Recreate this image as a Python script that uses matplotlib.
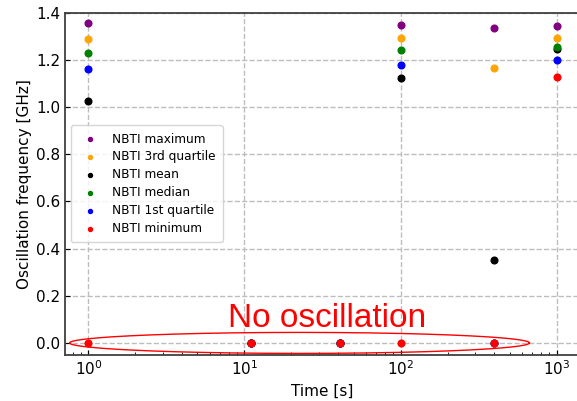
import numpy as np
import matplotlib
matplotlib.use('Agg')
from matplotlib import pyplot as plt

# stress time [s]
time = [1, 11, 41, 100, 400, 1000]

# oscillation frequency [GHz], 0 = no oscillation
f_max = [1.355, 0, 0, 1.346, 1.335, 1.345]
f_q3 = [1.289, 0, 0, 1.292, 1.165, 1.292]
f_mean = [1.024, 0, 0, 1.123, 0.353, 1.247]
f_median = [1.228, 0, 0, 1.240, 0, 1.254]
f_q1 = [1.162, 0, 0, 1.179, 0, 1.200]
f_min = [0, 0, 0, 0, 0, 1.128]

series = [
    ('NBTI maximum', f_max, 'purple'),
    ('NBTI 3rd quartile', f_q3, 'orange'),
    ('NBTI mean', f_mean, 'black'),
    ('NBTI median', f_median, 'green'),
    ('NBTI 1st quartile', f_q1, 'blue'),
    ('NBTI minimum', f_min, 'red'),
]

fig = plt.figure(figsize=(5.77, 4.01), dpi=100)
# the right edge of the axes lies just outside the picture
ax = fig.add_axes([65 / 577, 46.3 / 401, 515 / 577, 342 / 401])

for label, vals, col in series:
    ax.scatter(time, vals, s=23, color=col, label=label, zorder=3)

ax.set_xscale('log')
ax.set_xlim(10 ** -0.15, 10 ** 3.15)
ax.set_ylim(-0.05, 1.4)
ax.grid(True, which='major', linestyle='--', color='#bdbdbd', linewidth=1)
ax.set_axisbelow(True)
ax.tick_params(which='both', direction='in', labelsize=11)
for sp in ax.spines.values():
    sp.set_color('#404040')
    sp.set_linewidth(1.3)

ax.set_xlabel('Time [s]', fontsize=11)
ax.set_ylabel('Oscillation frequency [GHz]', fontsize=11, labelpad=3)

ax.legend(loc='center left', fontsize=8.7, markerscale=0.6, labelspacing=0.4,
          borderpad=0.6, framealpha=0.8)

# "no oscillation" annotation: ellipse round the zero points (log x)
t = np.linspace(0, 2 * np.pi, 300)
ell_cx, ell_a, ell_b = 1.353, 1.473, 0.0445
ax.plot(10 ** (ell_cx + ell_a * np.cos(t)), ell_b * np.sin(t),
        color='red', linewidth=1, zorder=4)
ax.text(33.6, 0.068, 'No oscillation', color='red', fontsize=24,
        family='Liberation Sans', ha='center', va='baseline')

fig.savefig('out.png', dpi=100)
